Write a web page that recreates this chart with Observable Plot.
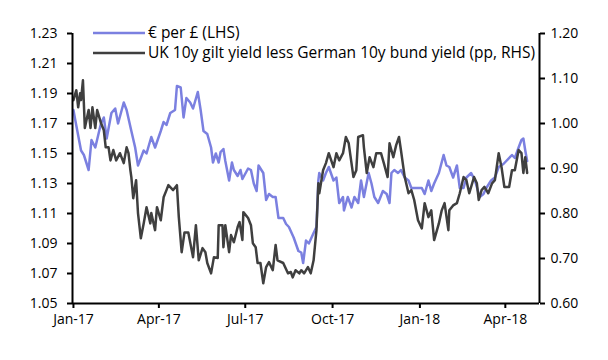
<!DOCTYPE html>
<html><head><meta charset="utf-8">
<script src="https://cdn.jsdelivr.net/npm/d3@7"></script>
<script src="https://cdn.jsdelivr.net/npm/@observablehq/plot@0.6"></script>
<style>body{margin:0;background:#fff}</style>
</head><body><div id="chart"></div>
<script>
const eurDates = ["2017-01-01","2017-01-03","2017-01-09","2017-01-12","2017-01-17","2017-01-20","2017-01-24","2017-01-30","2017-02-02","2017-02-05","2017-02-10","2017-02-14","2017-02-17","2017-02-23","2017-02-26","2017-03-03","2017-03-07","2017-03-10","2017-03-16","2017-03-19","2017-03-24","2017-03-28","2017-04-03","2017-04-06","2017-04-09","2017-04-13","2017-04-18","2017-04-20","2017-04-24","2017-04-27","2017-04-30","2017-05-04","2017-05-07","2017-05-12","2017-05-15","2017-05-18","2017-05-22","2017-05-26","2017-05-28","2017-05-31","2017-06-03","2017-06-05","2017-06-08","2017-06-10","2017-06-14","2017-06-17","2017-06-19","2017-06-23","2017-06-26","2017-06-28","2017-07-04","2017-07-07","2017-07-10","2017-07-13","2017-07-15","2017-07-20","2017-07-23","2017-07-26","2017-07-30","2017-08-02","2017-08-05","2017-08-10","2017-08-13","2017-08-16","2017-08-21","2017-08-26","2017-08-29","2017-08-31","2017-09-03","2017-09-06","2017-09-11","2017-09-14","2017-09-16","2017-09-17","2017-09-21","2017-09-24","2017-09-27","2017-10-02","2017-10-05","2017-10-08","2017-10-12","2017-10-13","2017-10-17","2017-10-21","2017-10-24","2017-10-28","2017-10-31","2017-11-03","2017-11-08","2017-11-11","2017-11-14","2017-11-18","2017-11-23","2017-11-27","2017-11-30","2017-12-02","2017-12-05","2017-12-09","2017-12-12","2017-12-16","2017-12-20","2017-12-23","2017-12-28","2018-01-03","2018-01-06","2018-01-10","2018-01-13","2018-01-16","2018-01-21","2018-01-26","2018-01-29","2018-02-01","2018-02-05","2018-02-09","2018-02-12","2018-02-16","2018-02-19","2018-02-24","2018-02-28","2018-03-05","2018-03-09","2018-03-12","2018-03-17","2018-03-21","2018-03-25","2018-03-30","2018-04-02","2018-04-08","2018-04-11","2018-04-15","2018-04-18","2018-04-20","2018-04-22","2018-04-24"];
const eurValues = [1.179,1.172,1.152,1.149,1.139,1.159,1.154,1.170,1.174,1.160,1.177,1.180,1.170,1.184,1.179,1.165,1.154,1.142,1.152,1.150,1.161,1.154,1.165,1.171,1.169,1.177,1.179,1.195,1.194,1.174,1.187,1.184,1.180,1.191,1.179,1.165,1.163,1.154,1.144,1.150,1.144,1.151,1.153,1.145,1.132,1.144,1.139,1.135,1.139,1.133,1.140,1.139,1.130,1.125,1.142,1.137,1.119,1.123,1.121,1.121,1.107,1.107,1.103,1.101,1.094,1.085,1.084,1.077,1.092,1.090,1.097,1.101,1.132,1.137,1.132,1.137,1.141,1.132,1.134,1.117,1.121,1.112,1.121,1.114,1.121,1.117,1.132,1.121,1.137,1.130,1.121,1.117,1.125,1.123,1.117,1.137,1.139,1.137,1.139,1.134,1.132,1.127,1.127,1.127,1.123,1.132,1.125,1.130,1.137,1.149,1.142,1.141,1.134,1.142,1.127,1.127,1.134,1.137,1.132,1.121,1.123,1.127,1.132,1.134,1.141,1.143,1.145,1.149,1.147,1.154,1.159,1.160,1.152,1.145];

const spreadDates = ["2017-01-01","2017-01-04","2017-01-06","2017-01-08","2017-01-09","2017-01-11","2017-01-13","2017-01-17","2017-01-19","2017-01-21","2017-01-24","2017-01-26","2017-01-30","2017-02-02","2017-02-04","2017-02-07","2017-02-09","2017-02-12","2017-02-15","2017-02-19","2017-02-23","2017-02-26","2017-02-28","2017-03-02","2017-03-03","2017-03-05","2017-03-08","2017-03-10","2017-03-13","2017-03-16","2017-03-19","2017-03-23","2017-03-24","2017-03-28","2017-03-30","2017-04-03","2017-04-06","2017-04-09","2017-04-11","2017-04-16","2017-04-20","2017-04-22","2017-04-25","2017-04-28","2017-05-02","2017-05-07","2017-05-10","2017-05-13","2017-05-17","2017-05-20","2017-05-22","2017-05-26","2017-05-29","2017-06-02","2017-06-03","2017-06-07","2017-06-08","2017-06-10","2017-06-14","2017-06-16","2017-06-19","2017-06-23","2017-06-25","2017-06-28","2017-06-29","2017-07-04","2017-07-07","2017-07-09","2017-07-12","2017-07-14","2017-07-17","2017-07-20","2017-07-23","2017-07-26","2017-07-30","2017-08-02","2017-08-04","2017-08-10","2017-08-15","2017-08-18","2017-08-20","2017-08-23","2017-08-27","2017-08-29","2017-09-01","2017-09-05","2017-09-08","2017-09-11","2017-09-14","2017-09-16","2017-09-17","2017-09-21","2017-09-24","2017-09-27","2017-10-02","2017-10-05","2017-10-08","2017-10-12","2017-10-15","2017-10-18","2017-10-23","2017-10-26","2017-10-28","2017-11-02","2017-11-03","2017-11-06","2017-11-09","2017-11-13","2017-11-16","2017-11-21","2017-11-24","2017-11-28","2017-11-30","2017-12-04","2017-12-07","2017-12-10","2017-12-12","2017-12-16","2017-12-20","2017-12-23","2017-12-26","2017-12-30","2018-01-03","2018-01-06","2018-01-10","2018-01-13","2018-01-16","2018-01-21","2018-01-24","2018-01-27","2018-01-31","2018-02-01","2018-02-05","2018-02-09","2018-02-12","2018-02-16","2018-02-19","2018-02-22","2018-02-27","2018-03-02","2018-03-04","2018-03-07","2018-03-10","2018-03-14","2018-03-18","2018-03-21","2018-03-25","2018-03-28","2018-03-31","2018-04-05","2018-04-08","2018-04-11","2018-04-15","2018-04-18","2018-04-20","2018-04-22","2018-04-24"];
const spreadValues = [1.052,1.074,1.036,1.067,1.052,1.096,0.990,1.030,0.990,1.036,0.990,1.030,1.001,0.985,0.947,0.947,0.918,0.941,0.918,0.934,0.912,0.947,0.934,0.896,0.881,0.834,0.874,0.801,0.745,0.778,0.814,0.778,0.801,0.763,0.814,0.785,0.836,0.852,0.863,0.852,0.863,0.792,0.714,0.758,0.758,0.703,0.774,0.696,0.723,0.714,0.690,0.667,0.703,0.701,0.774,0.774,0.725,0.774,0.714,0.752,0.736,0.770,0.781,0.741,0.803,0.790,0.774,0.734,0.725,0.690,0.690,0.645,0.681,0.692,0.674,0.730,0.696,0.690,0.667,0.670,0.658,0.674,0.667,0.674,0.667,0.681,0.667,0.696,0.763,0.867,0.845,0.896,0.912,0.934,0.903,0.934,0.918,0.934,0.970,0.956,0.881,0.896,0.970,0.974,0.947,0.890,0.925,0.903,0.934,0.934,0.912,0.881,0.956,0.925,0.952,0.970,0.941,0.881,0.845,0.852,0.830,0.785,0.767,0.823,0.792,0.807,0.741,0.778,0.807,0.823,0.763,0.807,0.818,0.823,0.845,0.881,0.874,0.845,0.881,0.867,0.830,0.852,0.859,0.845,0.867,0.874,0.934,0.903,0.859,0.859,0.896,0.896,0.941,0.934,0.890,0.925,0.890];

const leftTicks = [1.05,1.07,1.09,1.11,1.13,1.15,1.17,1.19,1.21,1.23];
const rightTicks = [0.60,0.70,0.80,0.90,1.00,1.10,1.20];
const monthTicks = ["2017-01-01","2017-04-01","2017-07-01","2017-10-01","2018-01-01","2018-04-01"];
const seriesNames = ["€ per £ (LHS)","UK 10y gilt yield less German 10y bund yield (pp, RHS)"];
const seriesColors = ["#7b80e0","#3f3f3f"];

const leftDomain = [1.05, 1.23];
const rightDomain = [0.60, 1.20];
const k = (leftDomain[1]-leftDomain[0])/(rightDomain[1]-rightDomain[0]);
const toLeft = r => leftDomain[0] + (r - rightDomain[0]) * k;
const toRight = l => rightDomain[0] + (l - leftDomain[0]) / k;

const eur = eurDates.map((d,i)=>({date:new Date(d), v:eurValues[i]}));
const spread = spreadDates.map((d,i)=>({date:new Date(d), v:toLeft(spreadValues[i])}));
const xDomain = [new Date("2016-12-31"), new Date("2018-05-07")];

const plot = Plot.plot({
  width:608, height:360,
  marginLeft:72, marginRight:69, marginTop:33, marginBottom:57,
  style:{fontFamily:"'Open Sans', sans-serif", fontSize:"14px", color:"#000", background:"#fff"},
  x:{type:"utc", domain:xDomain},
  y:{domain:leftDomain},
  marks:[
    Plot.line(eur,{x:"date", y:"v", stroke:seriesColors[0], strokeWidth:2.5}),
    Plot.line(spread,{x:"date", y:"v", stroke:seriesColors[1], strokeWidth:2.5}),
    Plot.ruleX([xDomain[0]],{stroke:"#000", strokeWidth:2}),
    Plot.ruleX([xDomain[1]],{stroke:"#000", strokeWidth:2}),
    Plot.ruleY([leftDomain[0]],{stroke:"#000", strokeWidth:2}),
    Plot.axisY(leftTicks,{anchor:"left", tickSize:5, tickPadding:10, strokeWidth:2, tickFormat:d=>d.toFixed(2), label:null}),
    Plot.axisY(rightTicks.map(toLeft),{anchor:"right", tickSize:5, tickPadding:6, strokeWidth:2, tickFormat:d=>toRight(d).toFixed(2), label:null}),
    Plot.axisX(monthTicks.map(d=>new Date(d)),{anchor:"bottom", tickSize:5, tickPadding:6, strokeWidth:2, tickFormat:d3.utcFormat("%b-%y"), label:null})
  ]
});
document.getElementById("chart").appendChild(plot);

const svg = d3.select(plot);
const lg = svg.append("g").attr("font-family","'Open Sans', sans-serif").attr("font-size","15.5px").attr("text-anchor","start");
seriesNames.forEach((name,i)=>{
  const y = 33 + i*20;
  lg.append("line").attr("x1",93).attr("x2",145).attr("y1",y).attr("y2",y)
    .attr("stroke",seriesColors[i]).attr("stroke-width",2.5);
  lg.append("text").attr("x",148).attr("y",y).attr("dy","0.35em").attr("fill","#000").attr("text-anchor","start").text(name);
});
</script>
</body></html>
